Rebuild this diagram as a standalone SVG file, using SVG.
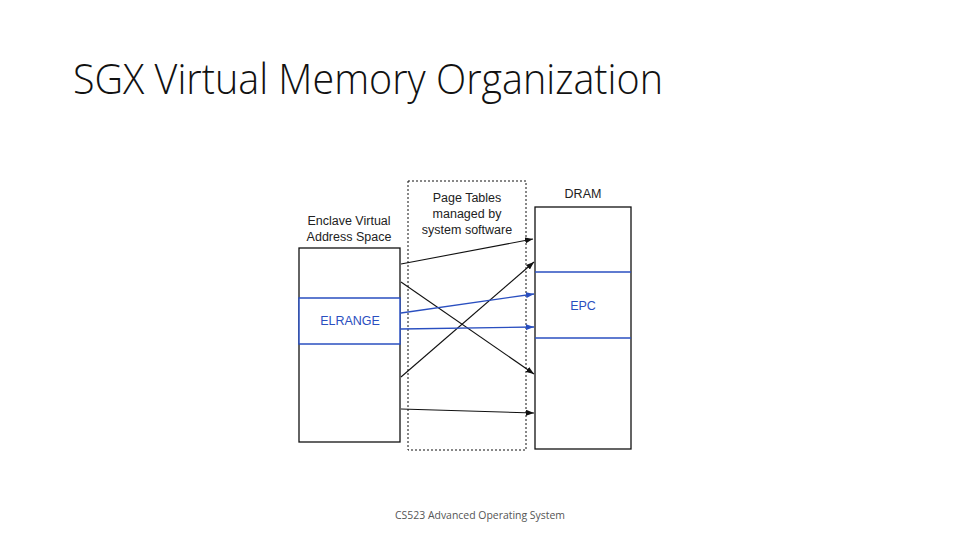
<svg xmlns="http://www.w3.org/2000/svg" width="960" height="540" viewBox="0 0 960 540">
<defs>
<style>
.lbl{font-family:"Liberation Sans",Arial,sans-serif;font-size:12.5px;fill:#222;text-anchor:middle}
.blu{fill:#2a4fc0}
.box{fill:#fff;stroke:#111;stroke-width:1.3}
.bline{stroke:#2a4fc0;stroke-width:1.5;fill:none}
.k{stroke:#111;stroke-width:1.1;fill:none;marker-end:url(#ak)}
.b{stroke:#2a4fc0;stroke-width:1.3;fill:none;marker-end:url(#ab)}
</style>
<marker id="ak" markerWidth="8" markerHeight="6" refX="8" refY="3" orient="auto" markerUnits="userSpaceOnUse"><path d="M0,0 L8,3 L0,6 Z" fill="#111"/></marker>
<marker id="ab" markerWidth="8" markerHeight="6" refX="8" refY="3" orient="auto" markerUnits="userSpaceOnUse"><path d="M0,0 L8,3 L0,6 Z" fill="#2a4fc0"/></marker>
</defs>
<rect width="960" height="540" fill="#fff"/>
<text x="73" y="94" font-family="'Open Sans','Liberation Sans',sans-serif" font-weight="300" font-size="42" fill="#111" textLength="590" lengthAdjust="spacingAndGlyphs">SGX Virtual Memory Organization</text>
<g id="vas">
<rect class="box" x="299" y="248" width="101" height="194"/>
<text class="lbl" x="349" y="225">Enclave Virtual</text>
<text class="lbl" x="349" y="241">Address Space</text>
</g>
<g id="elrange">
<rect x="299" y="298" width="101" height="46" fill="#fff" stroke="#2a4fc0" stroke-width="1.5"/>
<text class="lbl blu" x="350" y="325">ELRANGE</text>
</g>
<g id="pagetables">
<rect x="408" y="181" width="118" height="269" fill="none" stroke="#111" stroke-width="1" stroke-dasharray="2,2"/>
<text class="lbl" x="467" y="202">Page Tables</text>
<text class="lbl" x="467" y="218">managed by</text>
<text class="lbl" x="467" y="234">system software</text>
</g>
<g id="dram">
<rect class="box" x="535" y="207" width="96" height="242"/>
<text class="lbl" x="583" y="198">DRAM</text>
</g>
<g id="epc">
<line class="bline" x1="535" y1="272" x2="631" y2="272"/>
<line class="bline" x1="535" y1="338" x2="631" y2="338"/>
<text class="lbl blu" x="583" y="310">EPC</text>
</g>
<g id="connectors">
<line class="k" x1="401" y1="264" x2="533" y2="239"/>
<line class="k" x1="401" y1="282" x2="534" y2="374"/>
<line class="k" x1="401" y1="377" x2="534" y2="262"/>
<line class="b" x1="401" y1="313" x2="534" y2="294"/>
<line class="b" x1="401" y1="329" x2="534" y2="327"/>
<line class="k" x1="401" y1="409" x2="534" y2="413"/>
</g>
<text x="480" y="519" font-family="'Open Sans','Liberation Sans',sans-serif" font-size="11" fill="#555" text-anchor="middle" textLength="170" lengthAdjust="spacingAndGlyphs">CS523 Advanced Operating System</text>
</svg>
